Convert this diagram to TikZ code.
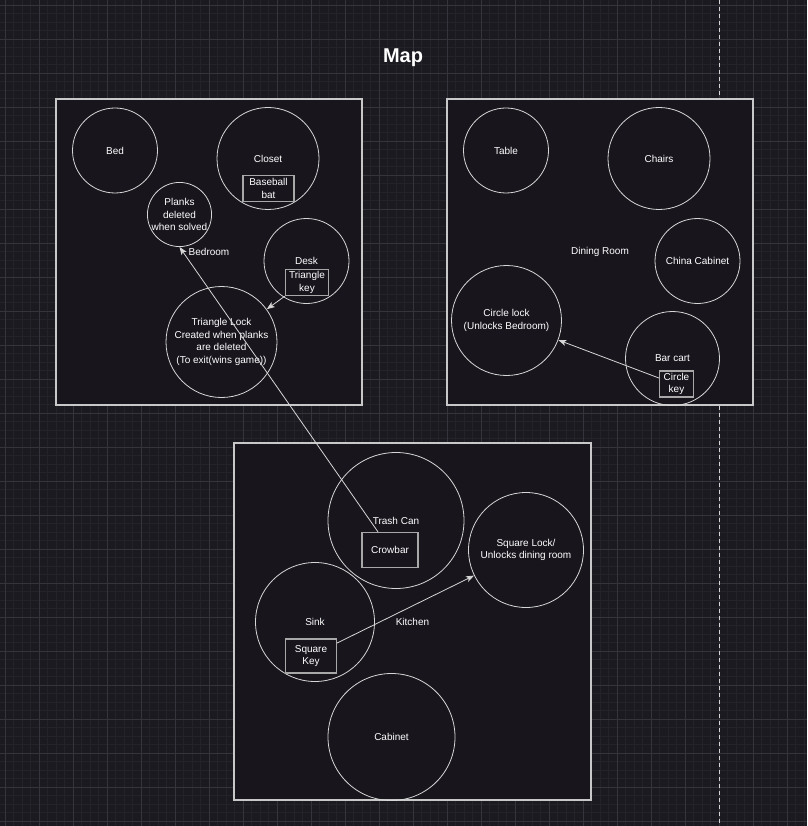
\documentclass[tikz,border=0pt]{standalone}
\usepackage{fontspec}
\setmainfont{Liberation Sans}
\usepackage{xcolor}
\definecolor{CanvasDark}{HTML}{1B1A21}
\definecolor{GridMinor}{HTML}{24232A}
\definecolor{GridMajor}{HTML}{35343C}
\definecolor{RoomFill}{HTML}{18151D}
\definecolor{LineGray}{HTML}{D6D6D6}
\definecolor{RoomGray}{HTML}{C8C8C8}
\definecolor{KeyGray}{HTML}{A8A8A8}
\usetikzlibrary{arrows.meta, positioning}

\begin{document}
\begin{tikzpicture}[x=1pt, y=-1pt,
	room/.style={draw=RoomGray, fill=RoomFill, line width=1.2pt},
	roomlabel/.style={text=white, font=\fontsize{10}{12.5}\selectfont},
	spot/.style={circle, draw=LineGray, line width=0.8pt, text=white, align=center, inner sep=0pt, font=\fontsize{10}{12.5}\selectfont},
	keybox/.style={draw=KeyGray, fill=RoomFill, line width=1.2pt, text=white, align=center, inner sep=0pt, font=\fontsize{10}{12.5}\selectfont},
	link/.style={LineGray, line width=0.8pt, -{Stealth[length=8pt, width=6pt, inset=2pt]}}]
			\useasboundingbox (0, 0) rectangle (807, 826);
			\fill[CanvasDark] (0, 0) rectangle (807, 826);
			% grid
			\foreach \x in {5, 13.5, ..., 807} \draw[GridMinor, line width=0.6pt] (\x, 0) -- (\x, 826);
			\foreach \y in {5, 13.5, ..., 826} \draw[GridMinor, line width=0.6pt] (0, \y) -- (807, \y);
			\foreach \x in {5, 39, ..., 807} \draw[GridMajor, line width=0.8pt] (\x, 0) -- (\x, 826);
			\foreach \y in {5, 39, ..., 826} \draw[GridMajor, line width=0.8pt] (0, \y) -- (807, \y);
			\draw[LineGray, line width=1pt, dash pattern=on 4pt off 3pt] (719.5, 0) -- (719.5, 826);

			\node[text=white, font=\bfseries\fontsize{20}{24}\selectfont, anchor=base] (title) at (403, 63) {Map};

			% rooms
			\draw[room] (56, 99) rectangle (362, 405) node[pos=0.5, roomlabel] (bedroom) {Bedroom};
			\draw[room] (447, 99) rectangle (753, 405) node[pos=0.5, roomlabel] (dining) {Dining Room};
			\draw[room] (234, 443) rectangle (591, 800) node[pos=0.5, roomlabel] (kitchen) {Kitchen};

			% bedroom
			\node[spot, minimum size=85pt] (bed) at (115, 150.5) {Bed};
			\node[spot, minimum size=102pt] (closet) at (268, 158.5) {Closet};
			\node[keybox, minimum width=51pt, minimum height=26pt] (bat) at (268.5, 188.5) {Baseball\\bat};
			\node[spot, minimum size=60pt] (planks) at (179.5, 214.5) {Planks\\deleted\\when solved};
			\node[spot, minimum size=85pt] (desk) at (306.5, 261) {Desk};
			\node[keybox, minimum width=43pt, minimum height=26pt] (trikey) at (307, 282.5) {Triangle\\key};
			\node[spot, minimum size=111pt] (trilock) at (221.5, 342) {Triangle Lock\\Created when planks\\are deleted\\(To exit(wins game))};

			% dining room
			\node[spot, minimum size=85pt] (table) at (506, 150.5) {Table};
			\node[spot, minimum size=102pt] (chairs) at (659, 158.5) {Chairs};
			\node[spot, minimum size=85pt] (china) at (697.5, 261) {China Cabinet};
			\node[spot, minimum size=110pt] (circlock) at (506.5, 320.5) {Circle lock\\(Unlocks Bedroom)};
			\node[spot, minimum size=94pt] (barcart) at (672.5, 358.5) {Bar cart};
			\node[keybox, minimum width=34pt, minimum height=26pt] (circkey) at (676.5, 384) {Circle\\key};

			% kitchen
			\node[spot, minimum size=136pt] (trash) at (396, 520.5) {Trash Can};
			\node[keybox, minimum width=56pt, minimum height=35pt] (crowbar) at (390, 550) {Crowbar};
			\node[spot, minimum size=115pt] (sqlock) at (526, 550) {Square Lock/\\Unlocks dining room};
			\node[spot, minimum size=119pt] (sink) at (315, 622) {Sink};
			\node[keybox, minimum width=51pt, minimum height=34pt] (sqkey) at (311, 656) {Square\\Key};
			\node[spot, minimum size=127pt] (cabinet) at (391.5, 737) {Cabinet};

			% keys to locks
			\draw[link] (trikey.south west) -- (trilock);
			\draw[link] ([yshift=6pt]circkey.west) -- (circlock);
			\draw[link] ([yshift=13pt]sqkey.east) -- (sqlock);
			\draw[link] ([xshift=-12pt]crowbar.north) -- (planks.south);
			\end{tikzpicture}
\end{document}
